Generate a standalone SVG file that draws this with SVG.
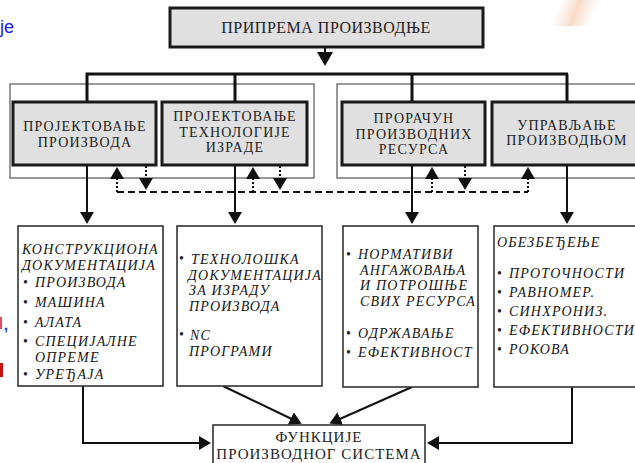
<svg xmlns="http://www.w3.org/2000/svg" width="635" height="463" viewBox="0 0 635 463">
  <defs>
    <marker id="ah" viewBox="0 0 12 14" refX="8" refY="7" markerWidth="12" markerHeight="14" markerUnits="userSpaceOnUse" orient="auto">
      <path d="M0,0 L12,7 L0,14 z" fill="#111"/>
    </marker>
    <marker id="ahBig" viewBox="0 0 14 16" refX="10" refY="8" markerWidth="14" markerHeight="16" markerUnits="userSpaceOnUse" orient="auto">
      <path d="M0,0 L14,8 L0,16 z" fill="#111"/>
    </marker>
    <linearGradient id="streak" x1="0" y1="0" x2="1" y2="0">
      <stop offset="0" stop-color="#f3c9a8" stop-opacity="0"/>
      <stop offset="0.5" stop-color="#f0c09c" stop-opacity="0.7"/>
      <stop offset="1" stop-color="#f3c9a8" stop-opacity="0"/>
    </linearGradient>
  </defs>
  <style>
    .main { fill: #e0e0e0; stroke: #1a1a1a; stroke-width: 3; }
    .doc { fill: #ffffff; stroke: #333; stroke-width: 1.6; }
    .frame { fill: none; stroke: #555; stroke-width: 1.2; }
    .bus { fill: none; stroke: #111; stroke-width: 3; }
    .wire { fill: none; stroke: #111; stroke-width: 2; }
    .dash { fill: none; stroke: #111; stroke-width: 2; stroke-dasharray: 7 4; }
    .dot { fill: none; stroke: #111; stroke-width: 2; stroke-dasharray: 2 2; }
    .lbl { font-family: "Liberation Serif", "Times New Roman", serif; font-size: 14px; fill: #222; text-anchor: middle; letter-spacing: 1.2px; }
    .top { font-size: 16px; letter-spacing: 0.5px; }
    .big { font-size: 15px; letter-spacing: 1px; }
    .it { font-family: "Liberation Serif", "Times New Roman", serif; font-size: 14px; font-style: italic; fill: #151515; letter-spacing: 1.2px; }
    .bl { font-family: "Liberation Serif", "Times New Roman", serif; font-size: 14px; fill: #222; }
  </style>

  <!-- slide background remnants -->
  <rect x="560" y="0" width="40" height="26" fill="url(#streak)" transform="skewX(-20)" opacity="0.8"/>
  <text x="0" y="33" font-family="Liberation Sans, Arial, sans-serif" font-size="18" fill="#1a1ae6">je</text>
  <rect x="0" y="317" width="2" height="12" fill="#e05060"/>
  <text x="4" y="330" font-family="Liberation Sans, Arial, sans-serif" font-size="14" font-weight="bold" fill="#1a1ae6">,</text>
  <rect x="0" y="363" width="3" height="14" fill="#cc1010"/>

  <!-- grouping frames -->
  <rect class="frame" x="10" y="84" width="304" height="94"/>
  <rect class="frame" x="337" y="84" width="310" height="94"/>

  <!-- connectors -->
  <g id="connectors">
    <line class="wire" x1="325" y1="47" x2="325" y2="62" marker-end="url(#ahBig)" stroke-width="3"/>
    <polyline class="bus" points="87,102 87,74 568,74"/>
    <line class="bus" x1="235" y1="74" x2="235" y2="102"/>
    <line class="bus" x1="412" y1="74" x2="412" y2="102"/>
    <line class="bus" x1="567" y1="74" x2="567" y2="102"/>

    <line class="wire" x1="87" y1="166" x2="87" y2="220" marker-end="url(#ah)"/>
    <line class="wire" x1="235" y1="166" x2="235" y2="220" marker-end="url(#ah)"/>
    <line class="wire" x1="412" y1="166" x2="412" y2="220" marker-end="url(#ah)"/>
    <line class="wire" x1="567" y1="166" x2="567" y2="220" marker-end="url(#ah)"/>

    <!-- feedback bus -->
    <line class="dash" x1="117" y1="192" x2="528" y2="192"/>
    <line class="dot" x1="117" y1="192" x2="117" y2="171" marker-end="url(#ah)"/>
    <line class="dot" x1="253" y1="192" x2="253" y2="171" marker-end="url(#ah)"/>
    <line class="dot" x1="432" y1="192" x2="432" y2="171" marker-end="url(#ah)"/>
    <line class="dot" x1="528" y1="192" x2="528" y2="171" marker-end="url(#ah)"/>
    <line class="dot" x1="146" y1="166" x2="146" y2="186" marker-end="url(#ah)"/>
    <line class="dot" x1="280" y1="166" x2="280" y2="186" marker-end="url(#ah)"/>
    <line class="dot" x1="465" y1="166" x2="465" y2="186" marker-end="url(#ah)"/>

    <!-- into the system functions -->
    <polyline class="wire" points="83,386 83,443 207,443" marker-end="url(#ah)"/>
    <polyline class="wire" points="572,386 572,443 431,443" marker-end="url(#ah)"/>
    <line class="wire" x1="223" y1="386" x2="298" y2="422" marker-end="url(#ah)"/>
    <line class="wire" x1="412" y1="387" x2="333" y2="422" marker-end="url(#ah)"/>
  </g>

  <g id="priprema">
    <rect class="main" x="170" y="8" width="313" height="39"/>
    <text class="lbl top" x="326" y="33">ПРИПРЕМА ПРОИЗВОДЊЕ</text>
  </g>

  <g id="proj-proizvoda">
    <rect class="main" x="13" y="102" width="143" height="63"/>
    <text class="lbl" x="85" y="131">ПРОЈЕКТОВАЊЕ</text>
    <text class="lbl" x="85" y="146.5">ПРОИЗВОДА</text>
  </g>

  <g id="proj-tehnologije">
    <rect class="main" x="162" y="102" width="145" height="63"/>
    <text class="lbl" x="235" y="121">ПРОЈЕКТОВАЊЕ</text>
    <text class="lbl" x="235" y="136.5">ТЕХНОЛОГИЈЕ</text>
    <text class="lbl" x="235" y="152">ИЗРАДЕ</text>
  </g>

  <g id="proracun">
    <rect class="main" x="342" y="102" width="143" height="63"/>
    <text class="lbl" x="414" y="123">ПРОРАЧУН</text>
    <text class="lbl" x="414" y="138.5">ПРОИЗВОДНИХ</text>
    <text class="lbl" x="414" y="154">РЕСУРСА</text>
  </g>

  <g id="upravljanje">
    <rect class="main" x="492" y="102" width="150" height="63"/>
    <text class="lbl" x="567" y="129.5">УПРАВЉАЊЕ</text>
    <text class="lbl" x="567" y="145">ПРОИЗВОДЊОМ</text>
  </g>

  <g id="konstrukciona">
    <rect class="doc" x="18" y="226" width="145" height="160"/>
    <text class="it" x="22" y="254">КОНСТРУКЦИОНА</text>
    <text class="it" x="22" y="269.5">ДОКУМЕНТАЦИЈА</text>
    <text class="bl" x="23" y="287">•</text><text class="it" x="35" y="287">ПРОИЗВОДА</text>
    <text class="bl" x="23" y="307">•</text><text class="it" x="35" y="307">МАШИНА</text>
    <text class="bl" x="23" y="327">•</text><text class="it" x="35" y="327">АЛАТА</text>
    <text class="bl" x="23" y="346">•</text><text class="it" x="35" y="346">СПЕЦИЈАЛНЕ</text>
    <text class="it" x="35" y="361.5">ОПРЕМЕ</text>
    <text class="bl" x="23" y="379">•</text><text class="it" x="35" y="379">УРЕЂАЈА</text>
  </g>

  <g id="tehnoloska">
    <rect class="doc" x="177" y="226" width="145" height="160"/>
    <text class="bl" x="179" y="263">•</text>
    <text class="it" x="191" y="264">ТЕХНОЛОШКА</text>
    <text class="it" x="188" y="279.5">ДОКУМЕНТАЦИЈА</text>
    <text class="it" x="189" y="295">ЗА ИЗРАДУ</text>
    <text class="it" x="189" y="310.5">ПРОИЗВОДА</text>
    <text class="bl" x="179" y="339">•</text><text class="it" x="190" y="340" fill="#444">NC</text>
    <text class="it" x="189" y="356">ПРОГРАМИ</text>
  </g>

  <g id="normativi">
    <rect class="doc" x="343" y="226" width="135" height="161"/>
    <text class="bl" x="346" y="259">•</text><text class="it" x="358" y="259">НОРМАТИВИ</text>
    <text class="it" x="360" y="274.5">АНГАЖОВАЊА</text>
    <text class="it" x="360" y="290">И ПОТРОШЊЕ</text>
    <text class="it" x="360" y="305.5">СВИХ РЕСУРСА</text>
    <text class="bl" x="346" y="338">•</text><text class="it" x="358" y="338">ОДРЖАВАЊЕ</text>
    <text class="bl" x="346" y="357">•</text><text class="it" x="358" y="357">ЕФЕКТИВНОСТ</text>
  </g>

  <g id="obezbedjenje">
    <rect class="doc" x="494" y="226" width="148" height="161"/>
    <text class="it" x="497" y="247">ОБЕЗБЕЂЕЊЕ</text>
    <text class="bl" x="497" y="278">•</text><text class="it" x="509" y="278">ПРОТОЧНОСТИ</text>
    <text class="bl" x="497" y="297">•</text><text class="it" x="509" y="297">РАВНОМЕР.</text>
    <text class="bl" x="497" y="316">•</text><text class="it" x="509" y="316">СИНХРОНИЗ.</text>
    <text class="bl" x="497" y="335">•</text><text class="it" x="509" y="335">ЕФЕКТИВНОСТИ</text>
    <text class="bl" x="497" y="354">•</text><text class="it" x="509" y="354">РОКОВА</text>
  </g>

  <g id="funkcije">
    <rect class="doc" x="213" y="425" width="212" height="50" stroke-width="2.2"/>
    <text class="lbl big" x="319" y="442">ФУНКЦИЈЕ</text>
    <text class="lbl big" x="319" y="458.6">ПРОИЗВОДНОГ СИСТЕМА</text>
  </g>
</svg>
